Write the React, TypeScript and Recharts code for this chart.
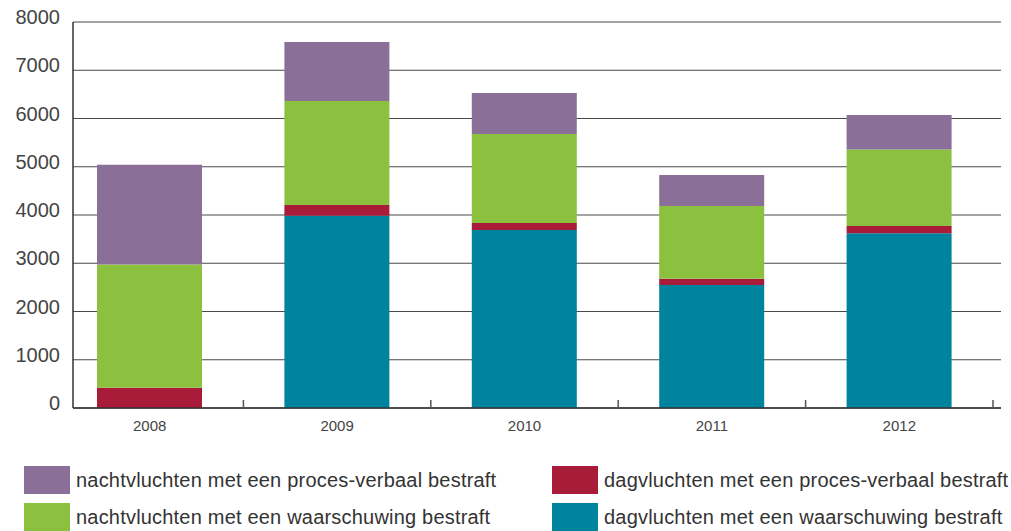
import React from 'react';
import { BarChart, Bar, XAxis, YAxis, CartesianGrid } from 'recharts';

const years = ['2008', '2009', '2010', '2011', '2012'];
const dagWaarschuwing = [0, 3985, 3690, 2550, 3620];
const dagProcesVerbaal = [420, 220, 145, 130, 150];
const nachtWaarschuwing = [2555, 2160, 1845, 1505, 1590];
const nachtProcesVerbaal = [2065, 1220, 850, 645, 710];
const yTicks = [0, 1000, 2000, 3000, 4000, 5000, 6000, 7000, 8000];

const series = [
  { key: 'dagW', name: 'dagvluchten met een waarschuwing bestraft', color: '#00839d', values: dagWaarschuwing },
  { key: 'dagPV', name: 'dagvluchten met een proces-verbaal bestraft', color: '#a81c3a', values: dagProcesVerbaal },
  { key: 'nachtW', name: 'nachtvluchten met een waarschuwing bestraft', color: '#8bc13f', values: nachtWaarschuwing },
  { key: 'nachtPV', name: 'nachtvluchten met een proces-verbaal bestraft', color: '#8a7098', values: nachtProcesVerbaal },
];

const legendOrder = ['nachtPV', 'dagPV', 'nachtW', 'dagW'];

const data = years.map((y, i) => {
  const row: any = { year: y };
  series.forEach((s) => { row[s.key] = s.values[i]; });
  return row;
});

const YearTick = (props: any) => {
  const { x, y, payload } = props;
  const half = payload && payload.offset ? payload.offset : 0;
  return (
    <g>
      <line x1={x + half} x2={x + half} y1={y - 8} y2={y} stroke="#555" strokeWidth={1.5} />
      <text x={x} y={y + 23} textAnchor="middle" fontSize={15} fill="#444">{payload.value}</text>
    </g>
  );
};

export default function App() {
  return (
    <div style={{ position: 'absolute', left: 0, top: 0, width: 1011, height: 531, background: '#fff', overflow: 'hidden', fontFamily: '"Liberation Sans", Arial, sans-serif' }}>
      <BarChart width={1011} height={440} data={data} margin={{ top: 22, right: 10, left: 0, bottom: 2 }}>
        <CartesianGrid vertical={false} stroke="#4a4a4a" strokeWidth={1.2} />
        <XAxis
          dataKey="year"
          height={30}
          axisLine={{ stroke: '#333', strokeWidth: 1.5 }}
          tickLine={false}
          tickSize={0}
          tickMargin={0}
          interval={0}
          tick={<YearTick />}
          padding={{ left: -17, right: 8 }}
        />
        <YAxis
          width={73}
          domain={[0, 8000]}
          ticks={yTicks}
          axisLine={{ stroke: '#333', strokeWidth: 1.5 }}
          tickLine={false}
          tickSize={0}
          tickMargin={13}
          tick={{ fontSize: 20, fill: '#444', dy: -5 }}
        />
        {series.map((s) => (
          <Bar key={s.key} dataKey={s.key} name={s.name} stackId="a" fill={s.color} barSize={105} isAnimationActive={false} />
        ))}
      </BarChart>
      {legendOrder.map((k, i) => {
        const s = series.find((x) => x.key === k)!;
        const col = i % 2;
        const row = Math.floor(i / 2);
        return (
          <div key={k} style={{ position: 'absolute', left: col === 0 ? 24 : 552, top: 466 + row * 37, height: 28, display: 'flex', alignItems: 'center', whiteSpace: 'nowrap' }}>
            <div style={{ width: 46, height: 28, background: s.color, marginRight: 6 }} />
            <span style={{ fontSize: 20, color: '#333', letterSpacing: 0.2 }}>{s.name}</span>
          </div>
        );
      })}
    </div>
  );
}
